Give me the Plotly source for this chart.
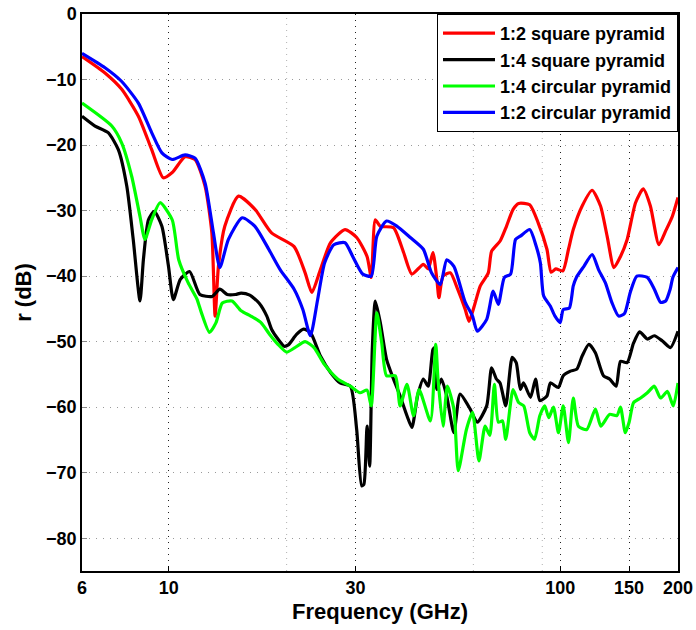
import plotly.graph_objects as go

# ---------------- data ----------------
red_f = [6, 6.87, 7.58, 8.36, 9.04, 9.68, 10.2, 11.0, 11.67, 12.38, 12.88, 13.13, 13.39, 13.9,
         15.06, 16.6, 18.3, 20.9, 22.3, 23.2, 24.4, 25.9, 28.2, 30.2, 32.1, 32.9, 33.7, 34.7,
         37.5, 39.8, 41.8, 44.7, 46.0, 47.3, 48.4, 49.0, 50.2, 52.4, 54.7, 57.2, 58.5, 60.3,
         62.5, 65.5, 66.8, 70.3, 72.9, 75.8, 78.3, 83.6, 87.9, 92.5, 94.8, 97.5, 101.6, 105,
         108, 113.8, 120.7, 126.8, 131.8, 137.2, 142.6, 148.3, 155.8, 163, 170, 178.7, 186,
         193.4, 200]
red_db = [-6.5, -9.0, -11.5, -15.6, -20.7, -25.0, -24.2, -21.8, -22.2, -26.3, -33.4, -46.1, -38.5, -32.4,
          -27.8, -29.8, -33.4, -35.5, -39.5, -42.5, -39.0, -34.9, -32.9, -34.1, -37.0, -40.2, -31.4, -32.4,
          -32.6, -36.4, -39.7, -38.2, -38.9, -36.4, -40.5, -43.3, -40.0, -39.5, -42.0, -45.1, -46.9, -44.6,
          -41.5, -39.5, -36.2, -34.6, -32.4, -29.8, -28.9, -29.1, -31.9, -35.9, -39.4, -38.9, -39.2, -35.9,
          -32.9, -29.3, -26.9, -29.3, -33.9, -38.7, -37.0, -34.4, -28.8, -26.7, -29.3, -35.2, -33.1,
          -30.9, -28.0]

black_f = [6, 6.48, 7.0, 7.43, 7.81, 8.11, 8.44, 8.61, 8.87, 9.18, 9.6, 9.98, 10.27, 10.7, 11.3,
           12.0, 12.9, 13.5, 14.1, 14.8, 15.3, 16.1, 17.0, 17.8, 18.3, 19.0, 19.7, 20.2, 21.2,
           22.1, 23.0, 24.4, 25.9, 27.4, 29.1, 30.2, 31.1, 31.5, 32.1, 32.6, 33.1, 33.7, 34.7,
           36.0, 37.5, 39.0, 40.6, 41.8, 43.2, 44.7, 46.0, 47.3, 47.8, 48.4, 49.7, 51.3, 53.5,
           55.5, 58.9, 61.4, 64.9, 66.8, 68.7, 70.2, 72.6, 75.4, 77.2, 79.1, 80.6, 84.0, 86.5,
           88.7, 92.5, 94.4, 98.9, 101.8, 106.2, 110.3, 113.8, 118.4, 123, 129, 133.7, 139,
           142.6, 148.3, 154, 159.6, 167, 174, 182.5, 191.4, 200]
black_db = [-15.6, -17.1, -18.1, -20.7, -26.3, -34.4, -43.8, -37.5, -31.4, -30.1, -32.4, -38.5, -43.6, -40.5, -39.3,
            -42.8, -43.1, -42.0, -42.8, -42.8, -42.6, -42.9, -44.1, -46.1, -48.1, -49.6, -50.7, -50.5, -48.9,
            -48.1, -48.6, -52.2, -54.7, -56.3, -56.8, -63.4, -72.0, -71.8, -62.9, -69.0, -51.2, -43.8, -47.1,
            -52.7, -55.7, -58.3, -61.3, -63.1, -58.3, -55.7, -56.8, -51.2, -50.9, -57.3, -55.7, -58.3, -63.9,
            -58.0, -60.3, -62.3, -59.8, -54.0, -55.7, -56.3, -59.8, -52.4, -53.2, -57.3, -56.3, -58.5, -55.7,
            -59.0, -58.3, -56.3, -57.0, -55.2, -54.5, -54.2, -52.2, -50.4, -51.7, -55.2, -55.7, -56.8,
            -53.0, -53.2, -50.2, -48.5, -49.6, -49.1, -49.9, -50.9, -48.4]

green_f = [6, 7.15, 7.58, 8.04, 8.44, 8.69, 9.04, 9.5, 10.2, 10.6, 11.2, 11.8, 12.1, 12.7, 13.2,
           13.7, 14.5, 15.3, 16.2, 17.2, 18.1, 19.0, 20.0, 20.9, 22.3, 23.5, 25.0, 27.0, 29.1,
           30.8, 32.1, 32.9, 34.0, 35.0, 36.0, 37.9, 39.0, 40.6, 42.2, 43.6, 46.6, 48.1, 48.7,
           50.2, 51.5, 53.5, 54.9, 57.6, 59.7, 62.0, 64.3, 66.1, 67.9, 69.5, 71.2, 72.6, 75.8,
           78.3, 80.7, 83.6, 86.0, 88.7, 91.3, 93.5, 96.1, 99.0, 101.8, 105.0, 108, 111.3, 117,
           123, 127, 133.7, 139.6, 142.6, 146.7, 150, 154, 160.5, 167, 174, 180.5, 188, 194.5, 200]
green_db = [-13.6, -17.1, -19.7, -24.8, -30.9, -34.4, -31.4, -28.8, -31.4, -37.5, -41.0, -43.5, -45.5, -48.6, -47.1,
            -44.1, -43.8, -45.3, -46.1, -47.1, -48.9, -50.4, -51.6, -51.0, -50.0, -50.9, -53.5, -55.7, -56.8,
            -57.8, -57.4, -59.8, -45.6, -50.2, -55.2, -55.2, -59.8, -56.5, -61.3, -57.3, -62.1, -50.4, -55.5,
            -62.9, -56.8, -60.3, -69.7, -63.4, -60.8, -68.2, -62.9, -64.3, -56.5, -62.3, -62.1, -64.9, -57.3,
            -59.3, -59.8, -63.9, -64.9, -61.3, -59.8, -61.6, -60.0, -63.9, -59.8, -65.4, -58.6, -62.9, -63.4,
            -60.3, -62.9, -61.1, -61.3, -60.0, -63.9, -62.3, -59.3, -58.6, -57.8, -56.8, -58.6, -57.6, -59.8, -56.3]

blue_f = [6, 6.87, 7.58, 8.36, 9.04, 9.6, 10.2, 11.0, 11.67, 12.38, 13.0, 13.5, 14.2, 15.4, 16.6,
          18.0, 19.25, 20.9, 22.0, 23.0, 24.0, 25.0, 26.4, 28.2, 29.5, 31.3, 32.9, 34.0, 36.0,
          38.3, 41.4, 44.7, 46.9, 49.4, 51.3, 53.5, 57.2, 59.7, 61.4, 64.9, 67.4, 69.5, 72.0,
          74.7, 76.9, 79.1, 83.6, 86.8, 89.0, 90.7, 94.4, 97.0, 100.0, 101.8, 105.5, 108, 110,
          115, 120.7, 125.3, 130.4, 135.5, 141, 146, 151, 157, 167, 174, 180.5, 186, 191, 194, 200]
blue_db = [-6.0, -8.2, -10.3, -13.6, -18.1, -21.2, -22.2, -21.5, -22.0, -25.8, -33.4, -38.7, -34.4, -31.1, -32.4,
           -35.9, -39.0, -42.0, -45.1, -49.1, -43.6, -38.0, -35.2, -34.9, -37.0, -39.7, -40.0, -33.9, -31.6,
           -32.4, -34.1, -35.9, -39.5, -41.3, -37.5, -38.5, -44.0, -46.1, -48.4, -46.6, -42.3, -44.3, -40.2,
           -39.7, -34.4, -33.9, -32.9, -35.4, -38.0, -43.0, -44.6, -46.1, -47.1, -45.1, -44.9, -41.5, -40.2,
           -38.5, -36.7, -39.0, -41.0, -44.0, -46.1, -45.7, -42.5, -40.0, -40.2, -42.0, -44.0, -43.8, -42.0, -40.2, -38.7]

series = [
    ("1:2 square pyramid", red_f, red_db, "#ff0000"),
    ("1:4 square pyramid", black_f, black_db, "#000000"),
    ("1:4 circular pyramid", green_f, green_db, "#00ff00"),
    ("1:2 circular pyramid", blue_f, blue_db, "#0000ff"),
]

x_tickvals = [6, 10, 30, 100, 150, 200]
x_ticktext = ["6", "10", "30", "100", "150", "200"]
y_tickvals = [0, -10, -20, -30, -40, -50, -60, -70, -80]
extra_grid_x = [20, 60, 90]

FONT = "Liberation Sans, Arial, Helvetica, sans-serif"

fig = go.Figure()
for name, f, db, col in series:
    fig.add_trace(go.Scatter(
        x=f, y=db, mode="lines", name=name,
        line=dict(color=col, width=3.2, shape="spline", smoothing=0.6),
    ))

for gx in extra_grid_x:
    fig.add_shape(type="line", xref="x", yref="paper", x0=gx, x1=gx, y0=0, y1=1,
                  line=dict(color="#b0b0b0", width=1, dash="1px,5px"), layer="below")

fig.update_layout(
    width=696, height=630,
    margin=dict(l=82, r=18, t=14, b=59, autoexpand=False),
    paper_bgcolor="white", plot_bgcolor="white",
    font=dict(family=FONT, size=18, color="black", weight="bold"),
    showlegend=True,
    legend=dict(
        x=1, y=1, xanchor="right", yanchor="top",
        bgcolor="white", bordercolor="black", borderwidth=1,
        font=dict(family=FONT, size=18, color="black", weight="bold"),
        tracegroupgap=0, itemwidth=52,
    ),
    xaxis=dict(
        type="log", range=[0.77815, 2.30103], automargin=False,
        tickmode="array", tickvals=x_tickvals, ticktext=x_ticktext,
        showline=True, linecolor="black", linewidth=1.5, mirror=True,
        ticks="inside", ticklen=5, tickcolor="black",
        showgrid=True, gridcolor="#222222", gridwidth=1, griddash="1px,5px",
        zeroline=False,
        tickfont=dict(family=FONT, size=18, weight="bold"),
        title=dict(text="Frequency (GHz)", font=dict(family=FONT, size=22, weight="bold"), standoff=6),
    ),
    yaxis=dict(
        range=[-85, 0], automargin=False,
        tickmode="array", tickvals=y_tickvals,
        showline=True, linecolor="black", linewidth=1.5, mirror=True,
        ticks="inside", ticklen=5, tickcolor="#888888",
        showgrid=True, gridcolor="#9a9a9a", gridwidth=1, griddash="1px,6px",
        zeroline=False,
        tickfont=dict(family=FONT, size=18, weight="bold"),
        title=dict(text="r (dB)", font=dict(family=FONT, size=22, weight="bold"), standoff=8),
    ),
)

fig.write_html("out.html")
